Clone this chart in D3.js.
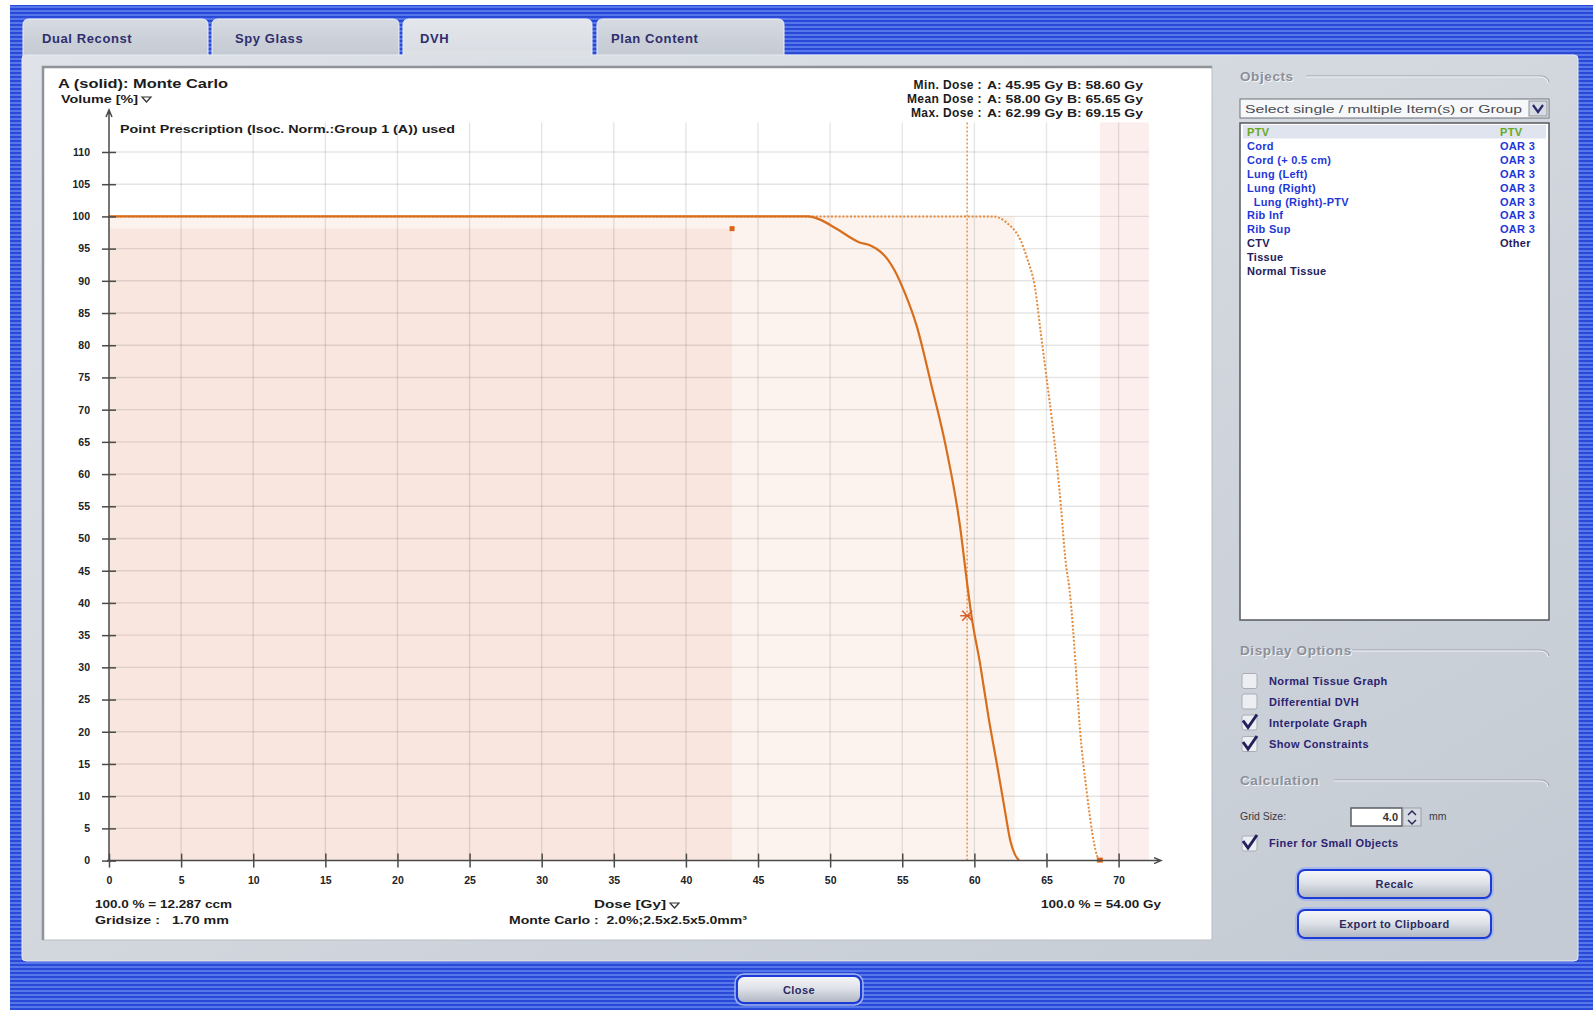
<!DOCTYPE html>
<html><head><meta charset="utf-8">
<script src="https://cdn.jsdelivr.net/npm/d3@7"></script>
<style>
body{margin:0;background:#fff;overflow:hidden}
text{font-family:"Liberation Sans",Arial,sans-serif}
</style>
</head><body>
<svg id="c" width="1593" height="1010"></svg>
<script>
// ---------------- DATA ----------------
const doseTicks = [0,5,10,15,20,25,30,35,40,45,50,55,60,65,70];
const volumeTicks = [0,5,10,15,20,25,30,35,40,45,50,55,60,65,70,75,80,85,90,95,100,105,110];
// Curve A (solid, Monte Carlo)
const doseA = [0,48.5,49.3,50.5,52.0,52.8,53.5,54.0,54.5,55.2,56.0,57.0,58.0,59.0,59.5,59.8,60.4,61.0,61.6,62.1,62.5,62.8,63.1];
const volA  = [100,100,99.5,98,96,95.5,94.5,93.3,91.5,88,83,74,64.5,52,43,38,30.5,22,14.5,8,3,1,0];
// Curve B (dotted)
const doseB = [0,59,61.3,61.8,62.3,62.8,63.2,63.7,64.2,64.6,65.0,65.4,65.7,66.0,66.3,66.65,67.0,67.3,67.8,68.3,68.5,68.7];
const volB  = [100,100,100,99.7,98.9,97.8,96.3,93.2,89,82,75,68,62,55,47,41,31,21,10.5,2.7,0.8,0];
// constraint / marker values
const constraintDose = [43.2];
const constraintVol = [98.1];
const prescriptionDose = [59.5];
const prescriptionVol = [38];
const shadeDose = [43.2, 62.8, 68.7, 72.1];
const shadeVol = [98.1, 100, 114.6];
const statLabels = ["Min. Dose :","Mean Dose :","Max. Dose :"];
const statValues = ["A: 45.95 Gy B: 58.60 Gy","A: 58.00 Gy B: 65.65 Gy","A: 62.99 Gy B: 69.15 Gy"];
const tabNames = ["Dual Reconst","Spy Glass","DVH","Plan Content"];
const objectNames = ["PTV","Cord","Cord (+ 0.5 cm)","Lung (Left)","Lung (Right)","\u00a0\u00a0Lung (Right)-PTV","Rib Inf","Rib Sup","CTV","Tissue","Normal Tissue"];
const objectTypes = ["PTV","OAR 3","OAR 3","OAR 3","OAR 3","OAR 3","OAR 3","OAR 3","Other","",""];
const optionNames = ["Normal Tissue Graph","Differential DVH","Interpolate Graph","Show Constraints"];
const optionChecked = [false,false,true,true];

// ---------------- SETUP ----------------
const svg = d3.select("#c");
const defs = svg.append("defs");
const pat = defs.append("pattern").attr("id","stripes").attr("patternUnits","userSpaceOnUse").attr("width",8).attr("height",4);
pat.append("rect").attr("width",8).attr("height",4).attr("fill","#2a49d6");
pat.append("rect").attr("y",2).attr("width",8).attr("height",2).attr("fill","#5676ec");

function lin(id, stops, x2, y2){
  const g = defs.append("linearGradient").attr("id",id).attr("x1",0).attr("y1",0).attr("x2",x2).attr("y2",y2);
  stops.forEach(s=>g.append("stop").attr("offset",s[0]).attr("stop-color",s[1]));
}
lin("panelG", [[0,"#dfe3e9"],[0.5,"#d2d7de"],[1,"#c4cad3"]], 1, 1);
lin("tabG", [[0,"#d6dae1"],[1,"#c3c9d2"]], 0, 1);
lin("tabA", [[0,"#e3e6eb"],[1,"#d9dde3"]], 0, 1);
lin("btnG", [[0,"#f6f7f9"],[0.45,"#dfe2e8"],[1,"#aeb5c2"]], 0, 1);

svg.append("rect").attr("width",1593).attr("height",1010).attr("fill","#fff");
svg.append("rect").attr("x",10).attr("y",5).attr("width",1583).attr("height",1005).attr("fill","url(#stripes)");

// tabs
const tabX = [[23,208],[212,399],[403,592],[597,784]];
tabX.forEach((t,i)=>{
  const active = i===2;
  const r=6, top=19, bot=57;
  svg.append("path")
    .attr("d",`M${t[0]},${bot} V${top+r} Q${t[0]},${top} ${t[0]+r},${top} H${t[1]-r} Q${t[1]},${top} ${t[1]},${top+r} V${bot} Z`)
    .attr("fill", active ? "url(#tabA)" : "url(#tabG)")
    .attr("stroke","#eef0f3").attr("stroke-width",1);
  svg.append("text").attr("x",[42,235,420,611][i]).attr("y",43)
    .attr("font-size",13).attr("font-weight","bold").attr("fill","#2f2e6e")
    .attr("letter-spacing",0.6).text(tabNames[i]);
});

// main panel
svg.append("rect").attr("x",22).attr("y",55).attr("width",1556).attr("height",906).attr("rx",4)
  .attr("fill","url(#panelG)").attr("stroke","#e8ebef");
svg.append("rect").attr("x",404).attr("y",50).attr("width",187).attr("height",8).attr("fill","#dde1e6");

// chart box
svg.append("rect").attr("x",43).attr("y",67).attr("width",1169).attr("height",873).attr("fill","#fff")
  .attr("stroke","#b9bdc3").attr("stroke-width",1);
svg.append("path").attr("d","M43,940 V67 H1212").attr("fill","none").attr("stroke","#8f9297").attr("stroke-width",2.5);

// ---------------- SCALES ----------------
const x = d3.scaleLinear().domain([0,70]).range([109,1118.6]);
const y = d3.scaleLinear().domain([0,100]).range([860.6,216.4]);

const plot = svg.append("g");
plot.append("rect").attr("x",x(0)).attr("y",y(shadeVol[1])).attr("width",x(shadeDose[1])-x(0)).attr("height",y(0)-y(shadeVol[1])).attr("fill","#fcf3ee");
plot.append("rect").attr("x",x(0)).attr("y",y(shadeVol[0])).attr("width",x(shadeDose[0])-x(0)).attr("height",y(0)-y(shadeVol[0])).attr("fill","#f9e6de");
plot.append("rect").attr("x",x(shadeDose[2])).attr("y",y(shadeVol[2])).attr("width",x(shadeDose[3])-x(shadeDose[2])).attr("height",y(0)-y(shadeVol[2])).attr("fill","#fdeeee");

// grid
const gridDose = doseTicks.filter(d=>d>0);
const gridVol = volumeTicks.filter(d=>d>0);
plot.selectAll(".gv").data(gridDose).join("line")
  .attr("x1",d=>x(d)).attr("x2",d=>x(d)).attr("y1",y(0)).attr("y2",y(shadeVol[2]))
  .attr("stroke","#000").attr("stroke-opacity",0.1).attr("stroke-width",1.4);
plot.selectAll(".gh").data(gridVol).join("line")
  .attr("x1",x(0)).attr("x2",x(shadeDose[3])).attr("y1",d=>y(d)).attr("y2",d=>y(d))
  .attr("stroke","#000").attr("stroke-opacity",0.1).attr("stroke-width",1.4);

// axes
const yAxis = d3.axisLeft(y).tickValues(volumeTicks).tickSizeInner(14).tickSizeOuter(0).tickPadding(12).tickFormat(d3.format("d"));
const gy = svg.append("g").attr("transform",`translate(${x(0)+7},0)`).call(yAxis);
const xAxis = d3.axisBottom(x).tickValues(doseTicks).tickSizeInner(14).tickSizeOuter(0).tickPadding(9).tickFormat(d3.format("d"));
const gx = svg.append("g").attr("transform",`translate(0,${y(0)-7})`).call(xAxis);
[gy,gx].forEach(g=>{
  g.select(".domain").remove();
  g.selectAll(".tick line").attr("stroke","#4a4a4a").attr("stroke-width",1.5);
  g.selectAll(".tick text").attr("font-family","DejaVu Sans").attr("font-size",10.5).attr("font-weight","bold").attr("fill","#222");
});
svg.append("path").attr("d",`M${x(0)},${y(0)} V110 M${x(0)-3},117 L${x(0)},110 L${x(0)+3},117`)
  .attr("fill","none").attr("stroke","#4a4a4a").attr("stroke-width",1.5);
svg.append("path").attr("d",`M${x(0)-2},${y(0)} H1161 M1154,${y(0)-3} L1161,${y(0)} L1154,${y(0)+3}`)
  .attr("fill","none").attr("stroke","#4a4a4a").attr("stroke-width",1.5);

// prescription vertical dotted line
plot.append("line").attr("x1",x(prescriptionDose[0])).attr("x2",x(prescriptionDose[0])).attr("y1",y(0)).attr("y2",y(shadeVol[2]))
  .attr("stroke","#e8994e").attr("stroke-width",1.6).attr("stroke-dasharray","2,2");

// curves
const line = d3.line().x(d=>x(d[0])).y(d=>y(d[1])).curve(d3.curveMonotoneX);
const ptsA = doseA.map((d,i)=>[d,volA[i]]);
const ptsB = doseB.map((d,i)=>[d,volB[i]]);
plot.append("path").attr("d",line(ptsB)).attr("fill","none").attr("stroke","#e48a3a").attr("stroke-width",2).attr("stroke-dasharray","2,1.8");
plot.append("path").attr("d",line(ptsA)).attr("fill","none").attr("stroke","#d86e1c").attr("stroke-width",2.2);

// markers
plot.append("rect").attr("x",x(constraintDose[0])-2.5).attr("y",y(constraintVol[0])-2.5).attr("width",5).attr("height",5).attr("fill","#dc6418");
plot.append("rect").attr("x",x(doseB[doseB.length-1])-3).attr("y",y(0)-3).attr("width",6).attr("height",5).attr("fill","#dc6418");
const px = x(prescriptionDose[0]), py = y(prescriptionVol[0]);
plot.append("path").attr("d",`M${px-5},${py-5} L${px+5},${py+5} M${px-5},${py+5} L${px+5},${py-5} M${px-7},${py} H${px+3}`)
  .attr("stroke","#d8602a").attr("stroke-width",1.6).attr("fill","none");

// ---------------- CHART TEXTS ----------------
const T = (xx,yy,s,size,opt={})=>{
  const t = svg.append("text").attr("x",xx).attr("y",yy).attr("font-size",size)
    .attr("font-weight",opt.w||"bold").attr("fill",opt.c||"#1c1c1c").text(s);
  if(opt.a) t.attr("text-anchor",opt.a);
  if(opt.len) t.attr("textLength",opt.len).attr("lengthAdjust","spacingAndGlyphs");
  if(opt.ls) t.attr("letter-spacing",opt.ls);
  if(opt.f) t.attr("font-family",opt.f);
  return t;
};
T(58,87.5,"A (solid): Monte Carlo",13.5,{len:170});
T(61,102.5,"Volume [%]",11,{len:77});
svg.append("path").attr("d","M142,97 L151,97 L146.5,102 Z").attr("fill","none").attr("stroke","#333").attr("stroke-width",1.2);
T(120,132.5,"Point Prescription (Isoc. Norm.:Group 1 (A)) used",11,{len:335});
statLabels.forEach((s,i)=>{
  T(982,[88.5,102.5,117][i],s,12,{a:"end",ls:0.4});
  T(987,[88.5,102.5,117][i],statValues[i],11.5,{len:156});
});
T(95,908,"100.0 % = 12.287 ccm",11,{len:137});
T(95,923.5,"Gridsize :\u00a0\u00a0\u00a01.70 mm",11,{len:134});
T(594,908,"Dose [Gy]",11,{len:72});
svg.append("path").attr("d","M670,903 L679,903 L674.5,908 Z").attr("fill","none").attr("stroke","#333").attr("stroke-width",1.2);
T(509,923.5,"Monte Carlo :\u00a0\u00a02.0%;2.5x2.5x5.0mm³",11,{len:238});
T(1161,908,"100.0 % = 54.00 Gy",11,{a:"end",len:120});

// ---------------- RIGHT PANEL ----------------
function groupHeader(label, yy, x0, lineStart){
  T(x0+1,yy+1,label,13.5,{c:"#f4f5f7",ls:0.6});
  T(x0,yy,label,13.5,{c:"#8b9099",ls:0.6});
  svg.append("path").attr("d",`M${lineStart},${yy-5} H1540 Q1548,${yy-5} 1549,${yy+1}`)
    .attr("fill","none").attr("stroke","#9aa0a8").attr("stroke-width",1);
  svg.append("path").attr("d",`M${lineStart},${yy-4} H1540 Q1547,${yy-4} 1548,${yy+2}`)
    .attr("fill","none").attr("stroke","#f2f3f5").attr("stroke-width",1);
}
groupHeader("Objects",81,1240,1306);
svg.append("rect").attr("x",1240).attr("y",99).attr("width",309).attr("height",19).attr("fill","#f7f8fa").attr("stroke","#6d7078");
T(1245,113,"Select single / multiple Item(s) or Group",11.5,{w:"normal",c:"#4a4c52",len:277});
svg.append("rect").attr("x",1529).attr("y",101).attr("width",18).attr("height",15).attr("fill","#d7dbe2").attr("stroke","#8d929a");
svg.append("path").attr("d","M1533,105 L1538,112 L1543,105").attr("fill","none").attr("stroke","#2a2a6a").attr("stroke-width",2.2);
svg.append("rect").attr("x",1240).attr("y",123).attr("width",309).attr("height",497).attr("fill","#fff").attr("stroke","#55585e").attr("stroke-width",1.5);
svg.append("rect").attr("x",1243).attr("y",125).attr("width",303).attr("height",13.5).attr("fill","#dfe4ee");
objectNames.forEach((n,i)=>{
  const yy = 136 + i*13.9;
  const col = i===0 ? "#6aa81e" : (i<8 ? "#1f37d8" : "#24205a");
  T(1247,yy,n,11,{c:col,ls:0.3});
  if(objectTypes[i]) T(1500,yy,objectTypes[i],11,{c:col,ls:0.3});
});

groupHeader("Display Options",655,1240,1352);
optionNames.forEach((n,i)=>{
  const cy = [681,701.5,722.5,744][i];
  svg.append("rect").attr("x",1242).attr("y",cy-7.5).attr("width",15).attr("height",15).attr("rx",2)
    .attr("fill","#eceef2").attr("stroke","#a9adb5");
  if(optionChecked[i]) svg.append("path").attr("d",`M1243,${cy-2} L1248,${cy+5} L1257,${cy-8}`)
    .attr("fill","none").attr("stroke","#24205e").attr("stroke-width",3);
  T(1269,cy+4,n,11,{c:"#2c2470",ls:0.4});
});
groupHeader("Calculation",785,1240,1334);
T(1240,820,"Grid Size:",10.5,{w:"normal",c:"#3a3a44"});
svg.append("rect").attr("x",1351).attr("y",808).attr("width",51).attr("height",18).attr("fill","#fff").attr("stroke","#5b5e64").attr("stroke-width",1.5);
T(1398,821,"4.0",11,{a:"end",c:"#333"});
svg.append("rect").attr("x",1403).attr("y",808).attr("width",18).attr("height",18).attr("fill","#d6dae1").attr("stroke","#9aa0a8");
svg.append("path").attr("d","M1408,815 L1412,811 L1416,815 M1408,820 L1412,824 L1416,820").attr("fill","none").attr("stroke","#2a2a5a").attr("stroke-width",1.5);
T(1429,820,"mm",10.5,{w:"normal",c:"#3a3a44"});
svg.append("rect").attr("x",1242).attr("y",836).attr("width",15).attr("height",15).attr("rx",2).attr("fill","#eceef2").attr("stroke","#a9adb5");
svg.append("path").attr("d","M1243,841 L1248,848 L1257,835").attr("fill","none").attr("stroke","#24205e").attr("stroke-width",3);
T(1269,847,"Finer for Small Objects",11,{c:"#2c2470",ls:0.4});

function button(bx,by,bw,bh,label){
  svg.append("rect").attr("x",bx-2).attr("y",by-2).attr("width",bw+4).attr("height",bh+4).attr("rx",9).attr("fill","none").attr("stroke","#9fb3f0").attr("stroke-width",1.5);
  svg.append("rect").attr("x",bx).attr("y",by).attr("width",bw).attr("height",bh).attr("rx",7).attr("fill","url(#btnG)").attr("stroke","#1b3ad6").attr("stroke-width",2);
  T(bx+bw/2,by+bh/2+4,label,11,{a:"middle",c:"#2a2a62",ls:0.4});
}
button(1298,870,193,28,"Recalc");
button(1298,910,193,28,"Export to Clipboard");
button(737,976,124,27,"Close");
</script>
</body></html>
